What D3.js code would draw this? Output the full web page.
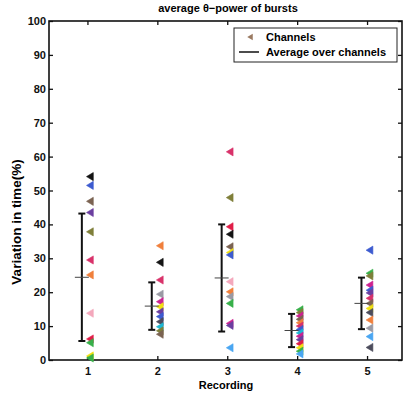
<!DOCTYPE html>
<html>
<head>
<meta charset="utf-8">
<script src="https://cdn.jsdelivr.net/npm/d3@7"></script>
<style>
  html, body { margin: 0; padding: 0; background: #fff; }
  svg { display: block; font-family: "Liberation Sans", Arial, sans-serif; font-weight: bold; }
</style>
</head>
<body>
<svg id="chart" width="406" height="398"></svg>
<script>
// Recordings on the x axis
const recordings = [1, 2, 3, 4, 5];
const yTicks = [0, 10, 20, 30, 40, 50, 60, 70, 80, 90, 100];

// Average over channels and its spread (mean ± std) per recording
const meanValues = [24.4, 15.9, 24.2, 8.7, 16.7];
const stdValues = [18.8, 7.0, 15.8, 4.9, 7.6];

// Channel colour key
const channelNames = ["black", "blue", "brown", "purple", "olive", "crimson", "orange", "pink",
  "red", "green", "yellow", "gray", "magenta", "cyan", "lightblue", "slate"];
const channelHex = ["#141414", "#3d5bd0", "#7b6352", "#6b3fa0", "#7f7f3a", "#d8326a", "#f0803c", "#f4a8bc",
  "#e01e48", "#38b04a", "#f0e010", "#9a9aa4", "#cc2290", "#1cb6d2", "#4aa6f2", "#4c4c5c"];

// Per-channel variation (%) for each recording
const rec1Values = [54.1, 51.5, 46.8, 43.5, 37.8, 29.5, 25.1, 13.8, 6.2, 5.1, 1.2, 0.6];
const rec1Channels = ["black", "blue", "brown", "purple", "olive", "crimson", "orange", "pink", "red", "green", "yellow", "green"];
const rec2Values = [33.7, 28.8, 23.6, 19.4, 17.2, 15.7, 14.2, 12.8, 11.3, 9.8, 8.6, 7.6];
const rec2Channels = ["orange", "black", "crimson", "gray", "magenta", "yellow", "purple", "blue", "slate", "cyan", "olive", "brown"];
const rec3Values = [61.4, 47.9, 39.3, 37.1, 33.4, 31.7, 31.0, 23.1, 20.1, 18.7, 16.7, 10.8, 10.2, 3.6];
const rec3Channels = ["crimson", "olive", "red", "black", "brown", "yellow", "blue", "pink", "orange", "gray", "green", "magenta", "purple", "lightblue"];
const rec4Values = [14.8, 14.0, 13.0, 12.0, 11.0, 10.0, 9.0, 8.0, 7.0, 6.0, 4.8, 3.6, 2.6, 1.8];
const rec4Channels = ["green", "olive", "magenta", "brown", "orange", "crimson", "blue", "cyan", "magenta", "purple", "red", "yellow", "green", "lightblue"];
const rec5Values = [32.4, 25.6, 24.8, 22.1, 20.6, 19.8, 18.2, 16.7, 15.2, 14.0, 11.8, 9.4, 6.9, 3.7];
const rec5Channels = ["blue", "green", "olive", "magenta", "blue", "purple", "crimson", "brown", "yellow", "slate", "orange", "gray", "lightblue", "slate"];

const recValues = [rec1Values, rec2Values, rec3Values, rec4Values, rec5Values];
const recChannels = [rec1Channels, rec2Channels, rec3Channels, rec4Channels, rec5Channels];

const svg = d3.select("#chart");
const margin = { left: 49, right: 4, top: 21, bottom: 38 };
const W = 406, H = 398;

const x = d3.scaleLinear().domain([0.45, 5.5]).range([margin.left, W - margin.right]);
const y = d3.scaleLinear().domain([0, 100]).range([H - margin.bottom, margin.top]);
const color = d3.scaleOrdinal().domain(channelNames).range(channelHex);

svg.append("rect").attr("width", W).attr("height", H).attr("fill", "#fff");

// Title
svg.append("text")
  .attr("x", 228).attr("y", 12)
  .attr("text-anchor", "middle")
  .attr("font-size", 11)
  .text("average \u03b8\u2212power of bursts");

// Axes with inward ticks on all four sides
const tickFont = g => g.selectAll("text").attr("font-size", 11).attr("font-weight", "bold").attr("fill", "#111")
  .attr("font-family", "'Liberation Sans', Arial, sans-serif");
const clean = g => { g.select(".domain").remove(); g.selectAll("line").attr("stroke", "#111").attr("stroke-width", 1.3); };

svg.append("g").attr("transform", `translate(${margin.left},0)`)
  .call(d3.axisLeft(y).tickValues(yTicks).tickSizeInner(-4).tickSizeOuter(0).tickPadding(3))
  .call(clean).call(tickFont);
svg.append("g").attr("transform", `translate(0,${H - margin.bottom})`)
  .call(d3.axisBottom(x).tickValues(recordings).tickFormat(d3.format("d")).tickSizeInner(-4).tickSizeOuter(0).tickPadding(7))
  .call(clean).call(tickFont);
svg.append("g").attr("transform", `translate(${W - margin.right},0)`)
  .call(d3.axisRight(y).tickValues(yTicks).tickSizeInner(-4).tickSizeOuter(0).tickFormat(""))
  .call(clean);
svg.append("g").attr("transform", `translate(0,${margin.top})`)
  .call(d3.axisTop(x).tickValues(recordings).tickSizeInner(-4).tickSizeOuter(0).tickFormat(""))
  .call(clean);

svg.append("rect")
  .attr("x", margin.left).attr("y", margin.top)
  .attr("width", W - margin.right - margin.left).attr("height", H - margin.bottom - margin.top)
  .attr("fill", "none").attr("stroke", "#111").attr("stroke-width", 1.6);

// Axis titles
svg.append("text")
  .attr("x", 226).attr("y", 389)
  .attr("text-anchor", "middle").attr("font-size", 11)
  .text("Recording");
svg.append("text")
  .attr("transform", "translate(21,222) rotate(-90)")
  .attr("text-anchor", "middle").attr("font-size", 13.5)
  .text("Variation in time(%)");

// Left-pointing triangle marker
const tri = d3.symbol().type({
  draw(ctx, size) {
    const h = Math.sqrt(size);
    ctx.moveTo(-h * 0.5, 0);
    ctx.lineTo(h * 0.5, -h * 0.6);
    ctx.lineTo(h * 0.5, h * 0.6);
    ctx.closePath();
  }
}).size(46);

// Channel markers
recordings.forEach((r, i) => {
  const pts = recValues[i].map((v, j) => ({ v, c: recChannels[i][j] }));
  svg.append("g").selectAll("path").data(pts).join("path")
    .attr("d", tri)
    .attr("transform", d => `translate(${x(r + 0.035)},${y(d.v)})`)
    .attr("fill", d => color(d.c))
    .attr("stroke", d => color(d.c)).attr("stroke-width", 0.6).attr("stroke-linejoin", "round");
});

// Average over channels with ± std bars
const bars = svg.append("g").attr("stroke", "#111").attr("fill", "none");
recordings.forEach((r, i) => {
  const cx = x(r - 0.08);
  const lo = y(meanValues[i] - stdValues[i]), hi = y(meanValues[i] + stdValues[i]), m = y(meanValues[i]);
  bars.append("line").attr("x1", cx).attr("x2", cx).attr("y1", lo).attr("y2", hi).attr("stroke-width", 2);
  bars.append("line").attr("x1", cx - 3.5).attr("x2", cx + 3.5).attr("y1", hi).attr("y2", hi).attr("stroke-width", 2);
  bars.append("line").attr("x1", cx - 3.5).attr("x2", cx + 3.5).attr("y1", lo).attr("y2", lo).attr("stroke-width", 2);
  bars.append("line").attr("x1", cx - 7).attr("x2", cx + 7).attr("y1", m).attr("y2", m).attr("stroke-width", 1).attr("stroke", "#444");
});

// Legend
const lg = svg.append("g");
lg.append("rect").attr("x", 234).attr("y", 28).attr("width", 163).attr("height", 34)
  .attr("fill", "#fff").attr("stroke", "#222").attr("stroke-width", 1);
lg.append("path").attr("d", tri.size(30)).attr("transform", "translate(250,37)").attr("fill", "#9a7a62");
lg.append("text").attr("x", 266).attr("y", 41).attr("font-size", 11).text("Channels");
lg.append("line").attr("x1", 239).attr("x2", 259).attr("y1", 52).attr("y2", 52).attr("stroke", "#111").attr("stroke-width", 1.5);
lg.append("text").attr("x", 266).attr("y", 56).attr("font-size", 11).text("Average over channels");
</script>
</body>
</html>
